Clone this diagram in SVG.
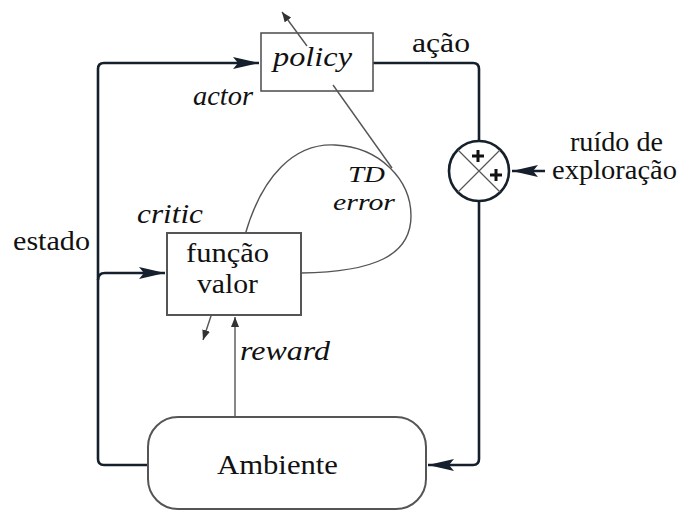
<svg xmlns="http://www.w3.org/2000/svg" width="689" height="511" viewBox="0 0 689 511">
<defs>
<style>
.t{font-family:'Liberation Serif','DejaVu Serif',serif;fill:#111;}
.up{font-size:28px;}
.it{font-size:27px;font-style:italic;}
.sm{font-size:24px;font-style:italic;}
.thick{fill:none;stroke:#15202c;stroke-width:2.6;stroke-linejoin:round;}
.thin{fill:none;stroke:#555;stroke-width:1.4;}
.box{fill:#fff;stroke:#555;stroke-width:2;}
</style>
<marker id="ah" viewBox="0 0 26 12" refX="26" refY="6" markerWidth="26" markerHeight="12" markerUnits="userSpaceOnUse" orient="auto">
<path d="M0,0 L26,6 L0,12 L5,6 Z" fill="#15202c"/>
</marker>
<marker id="ahs" viewBox="0 0 10 8" refX="10" refY="4" markerWidth="10" markerHeight="8" markerUnits="userSpaceOnUse" orient="auto">
<path d="M0,0 L10,4 L0,8 Z" fill="#333"/>
</marker>
</defs>

<g id="connectors">
<path class="thick" d="M148,465 L104,465 Q98,465 98,459 L98,69 Q98,63 104,63 L259,63" marker-end="url(#ah)"/>
<path class="thick" d="M98,280 Q98,273 105,273 L165,273" marker-end="url(#ah)"/>
<path class="thick" d="M373,63 L473,63 Q479,63 479,69 L479,141"/>
<path class="thick" d="M479,201 L479,459 Q479,465 473,465 L428,465" marker-end="url(#ah)"/>
<path class="thick" d="M545,171 L512,171" marker-end="url(#ah)"/>
<path class="thin" d="M235,417 L235,317" marker-end="url(#ahs)"/>
<path class="thin" stroke="#333" d="M212,313 L203,340" marker-end="url(#ahs)"/>
<path class="thin" d="M245,235 C262,175 295,143 335,145 C380,147 411,180 411,216 C411,255 375,272 301,273"/>
<path class="thin" d="M392,168 L333,85"/>
<path class="thin" stroke="#333" d="M307,46 L282,12" marker-end="url(#ahs)"/>
</g>

<g id="policy">
<rect x="261" y="33" width="112" height="58" fill="none" stroke="#555" stroke-width="1.6"/>
<text class="t it" x="273" y="66" textLength="79" lengthAdjust="spacingAndGlyphs">policy</text>
</g>

<g id="funcao-valor">
<rect class="box" x="167" y="233" width="134" height="82" fill="none"/>
<text class="t up" x="186" y="262" textLength="83" lengthAdjust="spacingAndGlyphs">função</text>
<text class="t up" x="197" y="293" textLength="61" lengthAdjust="spacingAndGlyphs">valor</text>
</g>

<g id="ambiente">
<rect class="box" x="148" y="417" width="278" height="92" rx="30" ry="30"/>
<text class="t up" x="217" y="474" textLength="121" lengthAdjust="spacingAndGlyphs">Ambiente</text>
</g>

<g id="somador">
<circle cx="479" cy="171" r="30" fill="#fff" stroke="#15202c" stroke-width="2.6"/>
<path d="M458,150 L500,192 M500,150 L458,192" stroke="#555" stroke-width="1.2" fill="none"/>
<path d="M478,150 L478,162 M472,156 L484,156 M496,169 L496,181 M490,175 L502,175" stroke="#111" stroke-width="3" fill="none"/>
</g>

<g id="labels">
<text class="t up" x="412" y="52" textLength="58" lengthAdjust="spacingAndGlyphs">ação</text>
<text class="t up" x="570" y="151" textLength="93" lengthAdjust="spacingAndGlyphs">ruído de</text>
<text class="t up" x="552" y="179" textLength="125" lengthAdjust="spacingAndGlyphs">exploração</text>
<text class="t up" x="13" y="250" textLength="77" lengthAdjust="spacingAndGlyphs">estado</text>
<text class="t it" x="193" y="105" textLength="60" lengthAdjust="spacingAndGlyphs">actor</text>
<text class="t it" x="137" y="223" textLength="66" lengthAdjust="spacingAndGlyphs">critic</text>
<text class="t sm" x="348" y="182" textLength="37" lengthAdjust="spacingAndGlyphs">TD</text>
<text class="t sm" x="333" y="210" textLength="62" lengthAdjust="spacingAndGlyphs">error</text>
<text class="t it" x="240" y="360" textLength="90" lengthAdjust="spacingAndGlyphs">reward</text>
</g>
</svg>
